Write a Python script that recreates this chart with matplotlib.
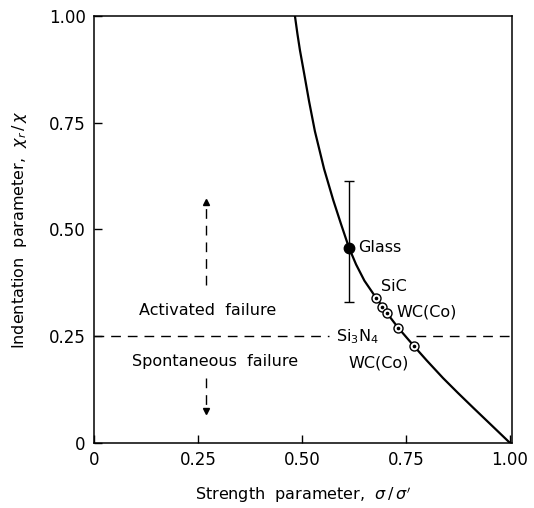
import numpy as np
import matplotlib
matplotlib.use("Agg")
import matplotlib.pyplot as plt

# curve (strength parameter vs indentation parameter)
curve_x = [0.483, 0.489, 0.495, 0.505, 0.517, 0.531, 0.553, 0.575, 0.594, 0.613, 0.630, 0.650, 0.678, 0.705, 0.731, 0.769, 0.800, 0.839, 0.875, 0.911, 0.955, 1.0]
curve_y = [1.0, 0.958, 0.92, 0.866, 0.80, 0.73, 0.642, 0.569, 0.512, 0.457, 0.418, 0.380, 0.340, 0.303, 0.270, 0.227, 0.193, 0.152, 0.117, 0.083, 0.042, 0.0]

# glass point with error bar
glass_x = 0.613
glass_y = 0.457
glass_lo = 0.331
glass_hi = 0.613

# open-circle materials
mat_x = [0.678, 0.692, 0.704, 0.731, 0.769]
mat_y = [0.340, 0.318, 0.304, 0.270, 0.227]

ticks = [0, 0.25, 0.5, 0.75, 1.0]
tick_labels = ["0", "0.25", "0.50", "0.75", "1.00"]

fig = plt.figure(figsize=(5.34, 5.08), dpi=100)
ax = fig.add_axes([0.176, 0.128, 0.783, 0.8406])

ax.plot(curve_x, curve_y, color='k', lw=1.6, solid_joinstyle='round')

ax.errorbar([glass_x], [glass_y],
            yerr=[[glass_y - glass_lo], [glass_hi - glass_y]],
            fmt='o', color='k', markersize=7.5, elinewidth=1.0, capsize=3.5, capthick=1.0)

ax.plot(mat_x, mat_y, 'o', markersize=6.5, markerfacecolor='white', markeredgecolor='k', markeredgewidth=1.0, zorder=5)
ax.plot(mat_x, mat_y, 'o', markersize=1.6, color='k', zorder=6)

# activated / spontaneous boundary
ax.plot([0, 0.565], [0.25, 0.25], color='k', lw=1.0, dashes=(7, 5))
ax.plot([0.775, 1.0], [0.25, 0.25], color='k', lw=1.0, dashes=(7, 5))

# dashed arrows
ax.plot([0.269, 0.269], [0.37, 0.555], color='k', lw=1.0, dashes=(7, 5))
ax.plot([0.269], [0.565], marker='^', markersize=4, color='k')
ax.plot([0.269, 0.269], [0.152, 0.085], color='k', lw=1.0, dashes=(7, 5))
ax.plot([0.269], [0.076], marker='v', markersize=4, color='k')

fs = 11.5
ax.text(0.274, 0.311, "Activated  failure", ha='center', va='center', fontsize=fs)
ax.text(0.29, 0.19, "Spontaneous  failure", ha='center', va='center', fontsize=fs)
ax.text(0.635, 0.457, "Glass", ha='left', va='center', fontsize=fs)
ax.text(0.690, 0.367, "SiC", ha='left', va='center', fontsize=fs)
ax.text(0.726, 0.307, "WC(Co)", ha='left', va='center', fontsize=fs)
ax.text(0.582, 0.250, r"Si$_3$N$_4$", ha='left', va='center', fontsize=fs)
ax.text(0.612, 0.187, "WC(Co)", ha='left', va='center', fontsize=fs)

ax.set_xlim(0, 1.005)
ax.set_ylim(0, 1.0)
ax.set_xticks(ticks)
ax.set_xticklabels(tick_labels)
ax.set_yticks(ticks)
ax.set_yticklabels(tick_labels)
ax.tick_params(direction='in', length=6, width=1.0, labelsize=12, pad=6)
for s in ax.spines.values():
    s.set_linewidth(1.1)

ax.set_xlabel(r"Strength  parameter,  $\sigma\,/\,\sigma'$", fontsize=11.5, labelpad=11)
ax.set_ylabel(r"Indentation  parameter,  $\chi_r\,/\,\chi$", fontsize=11.5, labelpad=14)

fig.savefig("out.png", dpi=100)
